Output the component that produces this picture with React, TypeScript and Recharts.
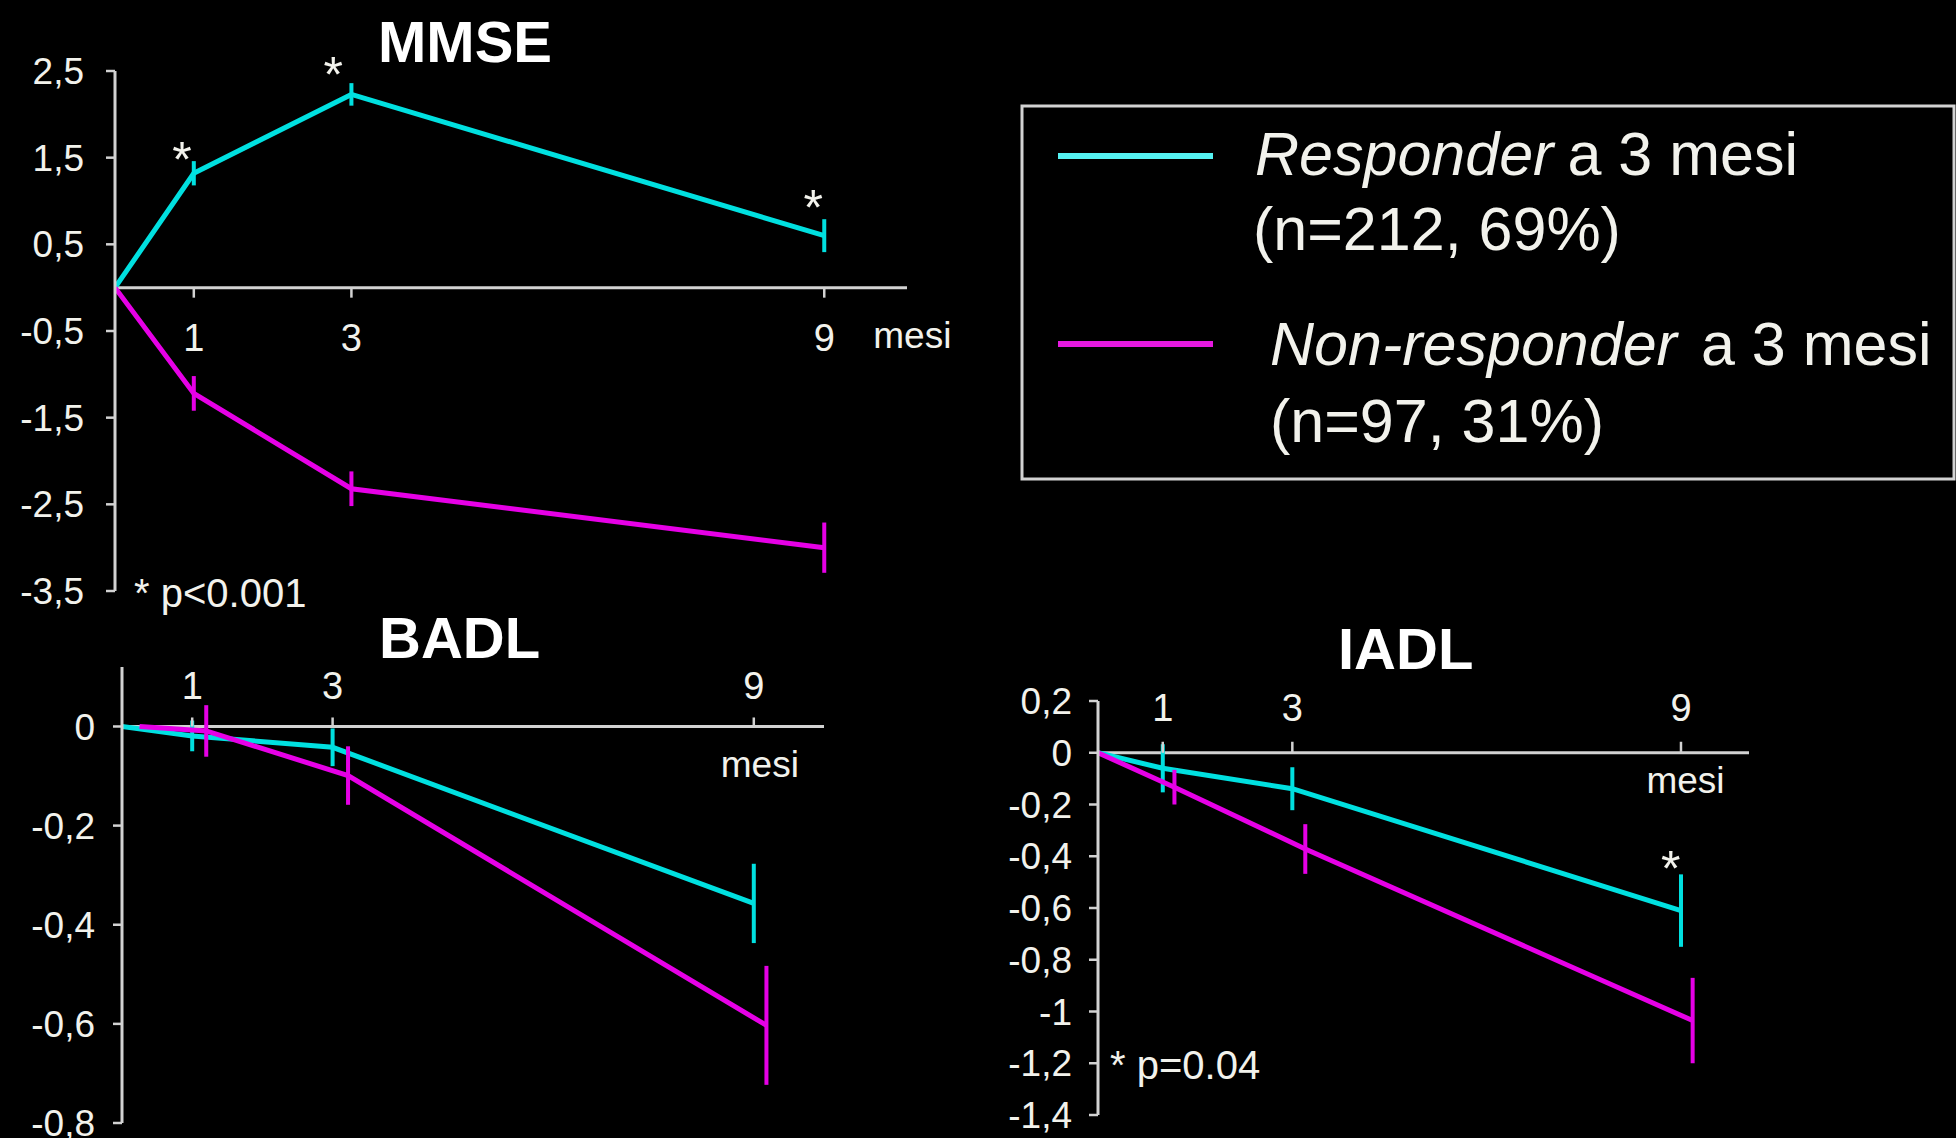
import React from 'react';
import { LineChart, Line, XAxis, YAxis, ErrorBar, ReferenceLine, ReferenceDot } from 'recharts';

const FONT = '"Liberation Sans", Arial, Helvetica, sans-serif';
const CYAN = '#00e0e0';
const MAGENTA = '#e600e6';
const CYAN_LEGEND = '#55f2f2';
const MAGENTA_LEGEND = '#e619e0';
const AXIS = '#d2d2d2';
const TEXT = '#f2f2ec';

// ---- shared x axis (months) ----
const X_TICKS = [1, 3, 9];
const X_TICK_LABELS = ['1', '3', '9'];
const X_UNIT = 'mesi';

// ---- MMSE ----
const MMSE_RESP_MONTHS = [0, 1, 3, 9];
const MMSE_RESP = [0, 1.32, 2.23, 0.6];
const MMSE_RESP_ERR = [0, 0.14, 0.13, 0.19];
const MMSE_NONRESP_MONTHS = [0, 1, 3, 9];
const MMSE_NONRESP = [0, -1.22, -2.32, -3.0];
const MMSE_NONRESP_ERR = [0, 0.2, 0.2, 0.29];
const MMSE_Y_TICKS = [2.5, 1.5, 0.5, -0.5, -1.5, -2.5, -3.5];
const MMSE_STAR_X = [0.85, 2.77, 8.86];
const MMSE_STAR_Y = [1.62, 2.6, 1.065];

// ---- BADL ----
const BADL_RESP_MONTHS = [0, 1, 3, 9];
const BADL_RESP = [0, -0.019, -0.042, -0.357];
const BADL_RESP_ERR = [0, 0.031, 0.038, 0.08];
const BADL_NONRESP_MONTHS = [0.25, 1.2, 3.22, 9.18];
const BADL_NONRESP = [0, -0.009, -0.099, -0.603];
const BADL_NONRESP_ERR = [0, 0.052, 0.059, 0.12];
const BADL_Y_TICKS = [0, -0.2, -0.4, -0.6, -0.8];
const BADL_STAR_X: number[] = [];
const BADL_STAR_Y: number[] = [];

// ---- IADL ----
const IADL_RESP_MONTHS = [0, 1, 3, 9];
const IADL_RESP = [0, -0.06, -0.139, -0.61];
const IADL_RESP_ERR = [0, 0.093, 0.083, 0.14];
const IADL_NONRESP_MONTHS = [0, 1.18, 3.2, 9.18];
const IADL_NONRESP = [0, -0.133, -0.372, -1.035];
const IADL_NONRESP_ERR = [0, 0.067, 0.096, 0.165];
const IADL_Y_TICKS = [0.2, 0, -0.2, -0.4, -0.6, -0.8, -1, -1.2, -1.4];
const IADL_STAR_X = [8.84];
const IADL_STAR_Y = [-0.403];

// ---- texts ----
const TITLES = ['MMSE', 'BADL', 'IADL'];
const P_NOTES = ['* p<0.001', '* p=0.04'];
const LEGEND_NAMES = ['Responder', 'Non-responder'];
const LEGEND_SUFFIX = 'a 3 mesi';
const LEGEND_COUNTS = ['(n=212, 69%)', '(n=97, 31%)'];

type Pt = { x: number; y: number; e: number };
const zip = (xs: number[], ys: number[], es: number[]): Pt[] =>
  xs.map((x, i) => ({ x, y: ys[i], e: es[i] }));
const stars = (xs: number[], ys: number[]) => xs.map((x, i) => ({ x, y: ys[i] }));
const fmt = (v: number) => String(v).replace('.', ',');

interface PanelCfg {
  left: number; top: number; width: number; height: number;
  margin: { top: number; right: number; bottom: number; left: number };
  yWidth: number; yDomain: [number, number]; yTicks: number[]; xMax: number; tickMargin: number;
  resp: Pt[]; nonresp: Pt[]; stars: { x: number; y: number }[];
  tickLen: number; labelDy: number; unitDx: number; unitDy: number; unitAnchor: 'start' | 'middle';
}

const PANELS: PanelCfg[] = [
  {
    left: 0, top: 0, width: 1000, height: 620,
    margin: { top: 71, right: 93, bottom: 29, left: 0 },
    yWidth: 115, yDomain: [-3.5, 2.5], yTicks: MMSE_Y_TICKS, xMax: 10.05, tickMargin: 22,
    resp: zip(MMSE_RESP_MONTHS, MMSE_RESP, MMSE_RESP_ERR),
    nonresp: zip(MMSE_NONRESP_MONTHS, MMSE_NONRESP, MMSE_NONRESP_ERR),
    stars: stars(MMSE_STAR_X, MMSE_STAR_Y),
    tickLen: 10, labelDy: 50, unitDx: 49, unitDy: 48, unitAnchor: 'start',
  },
  {
    left: 0, top: 620, width: 1000, height: 518,
    margin: { top: 47, right: 176, bottom: 15, left: 0 },
    yWidth: 122, yDomain: [-0.8, 0.12], yTicks: BADL_Y_TICKS, xMax: 10, tickMargin: 18,
    resp: zip(BADL_RESP_MONTHS, BADL_RESP, BADL_RESP_ERR),
    nonresp: zip(BADL_NONRESP_MONTHS, BADL_NONRESP, BADL_NONRESP_ERR),
    stars: stars(BADL_STAR_X, BADL_STAR_Y),
    tickLen: -9, labelDy: -40, unitDx: 6, unitDy: 38, unitAnchor: 'middle',
  },
  {
    left: 980, top: 620, width: 976, height: 518,
    margin: { top: 81, right: 207, bottom: 23, left: 0 },
    yWidth: 118, yDomain: [-1.4, 0.2], yTicks: IADL_Y_TICKS, xMax: 10.05, tickMargin: 17,
    resp: zip(IADL_RESP_MONTHS, IADL_RESP, IADL_RESP_ERR),
    nonresp: zip(IADL_NONRESP_MONTHS, IADL_NONRESP, IADL_NONRESP_ERR),
    stars: stars(IADL_STAR_X, IADL_STAR_Y),
    tickLen: -11, labelDy: -45, unitDx: 4.5, unitDy: 28, unitAnchor: 'middle',
  },
];

const STAR_FS = 50;

function Panel({ cfg }: { cfg: PanelCfg }) {
  return (
    <div style={{ position: 'absolute', left: cfg.left, top: cfg.top }}>
      <LineChart width={cfg.width} height={cfg.height} margin={cfg.margin}>
        <XAxis type="number" dataKey="x" domain={[0, cfg.xMax]} hide allowDataOverflow />
        <YAxis
          type="number"
          domain={cfg.yDomain}
          ticks={cfg.yTicks}
          interval={0}
          allowDataOverflow
          width={cfg.yWidth}
          axisLine={{ stroke: AXIS, strokeWidth: 3 }}
          tickLine={{ stroke: AXIS, strokeWidth: 2.5 }}
          tickSize={9}
          tickMargin={cfg.tickMargin}
          tick={{ fill: TEXT, fontSize: 37, fontFamily: FONT }}
          tickFormatter={fmt}
        />
        <ReferenceLine y={0} stroke={AXIS} strokeWidth={3} ifOverflow="visible" />
        <Line
          data={cfg.resp}
          dataKey="y"
          type="linear"
          stroke={CYAN}
          strokeWidth={5}
          dot={false}
          activeDot={false}
          isAnimationActive={false}
        >
          <ErrorBar dataKey="e" width={0} stroke={CYAN} strokeWidth={4} direction="y" />
        </Line>
        <Line
          data={cfg.nonresp}
          dataKey="y"
          type="linear"
          stroke={MAGENTA}
          strokeWidth={5}
          dot={false}
          activeDot={false}
          isAnimationActive={false}
        >
          <ErrorBar dataKey="e" width={0} stroke={MAGENTA} strokeWidth={4} direction="y" />
        </Line>
        {X_TICKS.map((m, i) => (
          <ReferenceDot
            key={'t' + m}
            x={m}
            y={0}
            r={0}
            ifOverflow="visible"
            shape={(p: any) => (
              <g>
                <line x1={p.cx} x2={p.cx} y1={p.cy} y2={p.cy + cfg.tickLen} stroke={AXIS} strokeWidth={2.5} />
                <text
                  x={p.cx}
                  y={p.cy + cfg.labelDy}
                  textAnchor="middle"
                  dominantBaseline="central"
                  fill={TEXT}
                  fontSize={38}
                  fontFamily={FONT}
                >
                  {X_TICK_LABELS[i]}
                </text>
                {i === X_TICKS.length - 1 && (
                  <text
                    x={p.cx + cfg.unitDx}
                    y={p.cy + cfg.unitDy}
                    textAnchor={cfg.unitAnchor}
                    dominantBaseline="central"
                    fill={TEXT}
                    fontSize={37}
                    fontFamily={FONT}
                  >
                    {X_UNIT}
                  </text>
                )}
              </g>
            )}
          />
        ))}
        {cfg.stars.map((s, i) => (
          <ReferenceDot
            key={'s' + i}
            x={s.x}
            y={s.y}
            r={0}
            ifOverflow="visible"
            shape={(p: any) => (
              <text
                x={p.cx}
                y={p.cy + STAR_FS * 0.585}
                textAnchor="middle"
                fill={TEXT}
                fontSize={STAR_FS}
                fontFamily={FONT}
              >
                *
              </text>
            )}
          />
        ))}
      </LineChart>
    </div>
  );
}

export default function App() {
  return (
    <div
      style={{
        position: 'absolute',
        left: 0,
        top: 0,
        width: 1956,
        height: 1138,
        background: '#000',
        overflow: 'hidden',
        fontFamily: FONT,
      }}
    >
      {PANELS.map((cfg, i) => (
        <Panel key={i} cfg={cfg} />
      ))}
      <svg
        width={1956}
        height={1138}
        style={{ position: 'absolute', left: 0, top: 0, pointerEvents: 'none' }}
        fontFamily={FONT}
      >
        <text x={378} y={62} fill="#fff" fontSize={58} fontWeight="bold">{TITLES[0]}</text>
        <text x={379} y={658} fill="#fff" fontSize={58} fontWeight="bold">{TITLES[1]}</text>
        <text x={1338} y={669} fill="#fff" fontSize={58} fontWeight="bold">{TITLES[2]}</text>
        <text x={134} y={607} fill={TEXT} fontSize={40}>{P_NOTES[0]}</text>
        <text x={1110} y={1079} fill={TEXT} fontSize={40}>{P_NOTES[1]}</text>

        <rect x={1022} y={106} width={932} height={373} fill="none" stroke={AXIS} strokeWidth={3} />
        <line x1={1058} x2={1213} y1={156} y2={156} stroke={CYAN_LEGEND} strokeWidth={6} />
        <line x1={1058} x2={1213} y1={344} y2={344} stroke={MAGENTA_LEGEND} strokeWidth={6} />
        <text x={1255} y={175} fill={TEXT} fontSize={61}>
          <tspan fontStyle="italic">{LEGEND_NAMES[0]}</tspan>
          <tspan dx={14}>{LEGEND_SUFFIX}</tspan>
        </text>
        <text x={1253} y={250} fill={TEXT} fontSize={61}>{LEGEND_COUNTS[0]}</text>
        <text x={1270} y={365} fill={TEXT} fontSize={61}>
          <tspan fontStyle="italic">{LEGEND_NAMES[1]}</tspan>
          <tspan dx={24}>{LEGEND_SUFFIX}</tspan>
        </text>
        <text x={1270} y={442} fill={TEXT} fontSize={61}>{LEGEND_COUNTS[1]}</text>
      </svg>
    </div>
  );
}
